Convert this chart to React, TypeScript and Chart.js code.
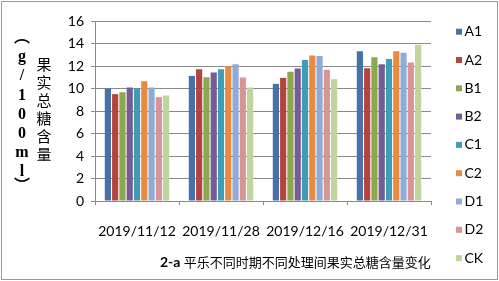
import React, { useEffect, useRef } from "react";
import { Chart, registerables } from "chart.js";

Chart.register(...registerables);

const categories = ["2019/11/12", "2019/11/28", "2019/12/16", "2019/12/31"];
const seriesNames = ["A1", "A2", "B1", "B2", "C1", "C2", "D1", "D2", "CK"];
const A1 = [10.0, 11.12, 10.41, 13.31];
const A2 = [9.5, 11.72, 10.95, 11.8];
const B1 = [9.67, 11.0, 11.48, 12.78];
const B2 = [10.09, 11.42, 11.78, 12.16];
const C1 = [10.0, 11.72, 12.54, 12.63];
const C2 = [10.65, 11.98, 12.93, 13.31];
const D1 = [10.09, 12.16, 12.9, 13.17];
const D2 = [9.23, 10.98, 11.66, 12.31];
const CK = [9.38, 10.09, 10.83, 13.88];
const seriesValues = [A1, A2, B1, B2, C1, C2, D1, D2, CK];
const colors = ["#4672AC", "#B4443F", "#8BA84F", "#745C96", "#419DB5", "#E98A3E", "#8FACD8", "#D99593", "#BFD59C"];
const yTicks = [0, 2, 4, 6, 8, 10, 12, 14, 16];
const yTitleCN = ["果", "实", "总", "糖", "含", "量"];
const yTitleUnit = ["g", "/", "1", "0", "0", "m", "l"];
const parenOpen = "︵";
const parenClose = "︶";
const titleBold = "2-a ";
const titleText = "平乐不同时期不同处理间果实总糖含量变化";

const decor = {
  id: "decor",
  afterDraw(chart: any) {
    const ctx = chart.ctx as CanvasRenderingContext2D;
    ctx.save();
    // outer border
    ctx.strokeStyle = "#9a9a9a";
    ctx.lineWidth = 1;
    ctx.strokeRect(1.5, 1.5, 496, 278);

    // y title: Chinese column
    ctx.fillStyle = "#000";
    ctx.textAlign = "center";
    ctx.textBaseline = "middle";
    ctx.font = "15px 'Noto Sans CJK SC'";
    yTitleCN.forEach((c, i) => ctx.fillText(c, 44, 64 + i * 18));

    // unit column (bold serif)
    ctx.font = "bold 16px 'Liberation Serif'";
    yTitleUnit.forEach((c, i) => ctx.fillText(c, 22, 57 + i * 19.2));
    ctx.font = "bold 16px 'Noto Sans CJK SC'";
    ctx.fillText(parenOpen, 22, 36);
    ctx.fillText(parenClose, 22, 185);

    // x title
    ctx.textAlign = "left";
    ctx.font = "bold 14px Lato";
    const x0 = 160;
    ctx.fillText(titleBold, x0, 262);
    const w = ctx.measureText(titleBold).width;
    ctx.font = "13px 'Noto Sans CJK SC'";
    ctx.fillText(titleText, x0 + w, 262);

    // legend
    ctx.font = "14px Lato";
    seriesNames.forEach((n, i) => {
      const cy = 31.7 + i * 28.3;
      ctx.fillStyle = colors[i];
      ctx.fillRect(456, cy - 3, 6, 6);
      ctx.fillStyle = "#000";
      ctx.fillText(n, 464.5, cy);
    });
    ctx.restore();
  },
};

export default function App() {
  const ref = useRef<HTMLCanvasElement>(null);
  useEffect(() => {
    document.body.style.margin = "0";
    const chart = new Chart(ref.current!, {
      type: "bar",
      data: {
        labels: categories,
        datasets: seriesNames.map((n, i) => ({
          label: n,
          data: seriesValues[i],
          backgroundColor: colors[i],
          borderWidth: 0,
          categoryPercentage: 0.78,
          barPercentage: 0.85,
        })),
      },
      options: {
        responsive: false,
        animation: false,
        layout: { padding: { top: 21, right: 68, left: 0, bottom: 0 } },
        plugins: { legend: { display: false }, tooltip: { enabled: false }, title: { display: false } },
        scales: {
          x: {
            offset: true,
            grid: { drawOnChartArea: false, drawTicks: true, tickLength: 4, offset: true, color: "#8a8a8a" },
            border: { color: "#8a8a8a" },
            ticks: { color: "#000", font: { family: "Lato", size: 14 }, padding: 18, maxRotation: 0 },
            afterFit: (s: any) => { s.height = 80; },
          },
          y: {
            min: 0,
            max: 16,
            afterBuildTicks: (s: any) => { s.ticks = yTicks.map((v) => ({ value: v })); },
            grid: { color: "#8a8a8a", tickLength: 4 },
            border: { color: "#8a8a8a" },
            ticks: { color: "#000", font: { family: "Lato", size: 14 }, padding: 7 },
            afterFit: (s: any) => { s.width = 95; },
          },
        },
      },
      plugins: [decor],
    });
    return () => chart.destroy();
  }, []);
  return (
    <div style={{ position: "absolute", left: 0, top: 0, width: 499, height: 281, background: "#fff" }}>
      <canvas ref={ref} width={499} height={281} />
    </div>
  );
}
